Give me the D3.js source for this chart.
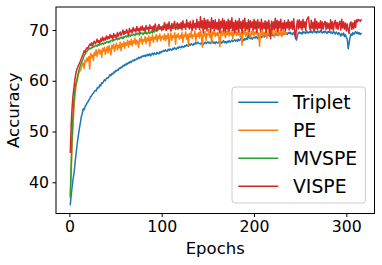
<!DOCTYPE html>
<html>
<head>
<meta charset="utf-8">
<script src="https://cdn.jsdelivr.net/npm/d3@7"></script>
<style>
  body { margin: 0; background: #fff; }
  svg { display: block; font-family: "DejaVu Sans", sans-serif; }
</style>
</head>
<body>
<div id="chart"></div>
<script>
// accuracy per epoch
var series_names = ['Triplet', 'PE', 'MVSPE', 'VISPE'];
var series_colors = ['#1f77b4', '#ff7f0e', '#2ca02c', '#d62728'];
var x_ticks = [0, 100, 200, 300];
var y_ticks = [40, 50, 60, 70];

var triplet = [
  35.6, 37.5, 39.2, 40.6, 41.8, 43.5, 45.2, 46.9, 48.3, 49.6, 50.8, 51.8, 53.0, 53.6, 54.5, 54.3, 54.9, 55.2, 55.6, 55.8,
  56.2, 56.4, 56.9, 57.0, 57.4, 57.5, 57.9, 58.1, 58.0, 58.5, 58.7, 58.6, 59.2, 59.0, 59.6, 59.5, 59.9, 60.2, 60.0, 60.4,
  60.6, 60.5, 60.9, 61.2, 61.0, 61.4, 61.3, 61.7, 61.6, 62.0, 61.9, 62.2, 62.1, 62.5, 62.4, 62.7, 62.6, 63.0, 62.9, 63.2,
  63.1, 63.4, 63.3, 63.6, 63.5, 63.8, 63.6, 63.9, 64.1, 63.9, 64.2, 64.1, 64.4, 64.3, 64.6, 64.4, 64.7, 64.6, 64.9, 64.8,
  65.0, 64.8, 65.1, 64.9, 65.2, 65.0, 65.3, 64.9, 65.2, 65.4, 65.1, 65.5, 65.3, 65.2, 65.6, 65.4, 65.3, 65.7, 65.5, 65.8,
  65.7, 66.0, 65.8, 66.1, 65.9, 65.8, 66.2, 66.0, 66.3, 66.1, 66.0, 66.4, 66.2, 66.5, 66.3, 66.2, 66.6, 66.4, 66.7, 66.6,
  66.5, 66.8, 66.7, 66.6, 66.9, 66.8, 67.1, 66.9, 66.8, 67.2, 67.0, 67.3, 67.1, 67.0, 67.4, 67.2, 67.5, 67.3, 67.6, 67.4,
  67.3, 67.2, 67.5, 67.3, 67.1, 67.4, 67.6, 67.3, 67.5, 67.7, 67.4, 67.6, 67.3, 67.5, 67.8, 67.4, 67.6, 67.3, 67.7, 67.5,
  67.4, 67.7, 67.5, 67.8, 67.4, 67.6, 67.9, 67.5, 67.7, 67.4, 67.8, 67.6, 67.9, 67.6, 67.8, 68.0, 67.7, 67.9, 68.1, 67.8,
  68.0, 67.8, 68.2, 67.9, 68.1, 68.3, 68.0, 68.2, 67.9, 68.3, 68.1, 68.4, 68.2, 69.6, 68.4, 68.3, 68.5, 68.2, 68.4, 68.6,
  68.4, 68.7, 68.5, 68.3, 68.8, 68.6, 68.9, 68.5, 68.7, 69.0, 68.6, 68.8, 69.1, 68.7, 68.9, 69.2, 68.8, 69.0, 69.3, 68.9,
  69.1, 68.8, 69.2, 69.0, 69.3, 68.9, 69.4, 69.1, 69.2, 69.5, 69.0, 69.3, 69.6, 69.2, 69.4, 69.1, 69.5, 69.3, 69.6, 69.2,
  69.4, 69.1, 69.5, 69.2, 68.6, 68.0, 68.9, 69.4, 69.6, 69.3, 69.5, 69.2, 69.7, 69.4, 69.6, 69.3, 69.8, 69.5, 69.4, 69.7,
  69.5, 69.8, 69.4, 69.6, 69.9, 69.5, 69.7, 69.4, 69.8, 69.6, 69.5, 69.9, 69.6, 69.4, 69.7, 69.5, 69.8, 69.6, 69.3, 69.7,
  69.5, 69.8, 69.4, 69.6, 69.3, 69.7, 69.5, 69.2, 69.6, 69.4, 69.1, 69.5, 69.2, 68.8, 69.3, 69.0, 69.4, 68.7, 69.1, 68.5,
  68.2, 66.3, 67.4, 68.6, 69.2, 68.9, 69.5, 69.1, 69.4, 69.7, 69.3, 69.6, 69.2, 69.5, 69.1, 69.3
];

var pe = [
  37.6, 42.0, 47.5, 51.5, 54.8, 57.0, 58.7, 59.6, 60.5, 61.4, 61.9, 62.0, 62.6, 63.2, 63.5, 62.4, 64.0, 63.7, 64.5, 63.9,
  64.8, 62.3, 65.4, 64.6, 65.1, 64.0, 65.6, 65.0, 66.1, 64.8, 65.7, 66.2, 65.3, 66.0, 64.6, 66.4, 65.8, 66.6, 65.2, 66.0,
  66.7, 65.5, 66.9, 66.2, 65.1, 67.0, 66.4, 67.2, 65.8, 66.8, 67.4, 66.1, 67.0, 66.5, 67.6, 65.9, 67.3, 66.8, 67.7, 66.4,
  67.5, 67.0, 68.0, 66.6, 67.8, 67.2, 68.2, 66.9, 67.9, 67.4, 68.4, 67.1, 68.0, 67.6, 66.5, 68.3, 67.7, 68.6, 67.2, 68.1,
  67.8, 68.7, 67.3, 68.4, 67.9, 68.8, 66.8, 68.5, 68.0, 69.0, 67.6, 68.6, 68.2, 69.1, 67.7, 68.8, 68.3, 69.2, 67.9, 68.7,
  68.8, 68.1, 69.2, 67.9, 68.9, 68.3, 69.3, 66.8, 68.7, 69.4, 68.0, 68.9, 68.5, 69.5, 67.2, 69.0, 68.6, 69.3, 68.2, 68.9,
  68.4, 69.5, 67.6, 69.0, 68.7, 69.6, 68.2, 69.1, 66.9, 69.3, 68.6, 69.7, 68.3, 69.0, 68.8, 69.8, 67.8, 69.2, 68.7, 69.5,
  68.4, 69.9, 68.9, 66.6, 69.4, 68.8, 69.7, 67.9, 69.3, 69.0, 70.1, 68.6, 69.5, 67.4, 69.6, 69.1, 70.0, 68.7, 69.4, 68.9,
  69.6, 68.4, 66.7, 69.2, 69.8, 68.9, 70.0, 69.3, 68.5, 69.7, 69.1, 70.2, 68.8, 69.5, 69.0, 69.9, 68.3, 69.6, 69.2, 70.1,
  68.9, 69.5, 69.0, 70.0, 68.6, 69.4, 67.0, 69.8, 69.2, 70.3, 68.7, 69.5, 69.0, 70.1, 69.3, 68.5, 69.7, 69.1, 70.2, 68.9,
  69.6, 69.2, 70.0, 68.8, 69.4, 66.8, 69.7, 69.1, 70.1, 68.7, 69.5, 69.0, 69.9, 68.4, 69.3, 70.2, 68.9, 69.6, 69.1, 70.0,
  69.2, 68.6, 69.8, 69.3, 70.1, 68.9, 69.5, 69.0, 70.2, 68.7, 69.4, 69.9, 69.1, 69.6, 69.3
];

var mvspe = [
  37.0, 44.5, 49.5, 53.2, 56.2, 58.3, 59.4, 60.1, 61.0, 61.8, 62.5, 63.1, 63.5, 63.9, 64.4, 65.0, 65.2, 65.6, 65.8, 66.0,
  66.2, 66.4, 66.3, 66.6, 66.5, 66.8, 66.7, 66.9, 67.0, 66.8, 67.1, 67.0, 67.2, 67.1, 67.3, 67.4, 67.2, 67.5, 67.4, 67.6,
  67.7, 67.5, 67.8, 67.6, 67.9, 68.0, 67.8, 68.1, 68.0, 68.2, 68.3, 68.1, 68.4, 68.2, 68.5, 68.4, 68.6, 68.3, 68.7, 68.6,
  68.8, 68.6, 68.9, 68.7, 69.0, 68.8, 69.1, 68.9, 69.0, 69.2, 68.9, 69.3, 69.1, 69.4, 69.2, 69.0, 69.5, 69.3, 69.4, 69.1,
  69.5, 69.3, 69.6, 69.2, 69.4, 69.7, 69.3, 69.5, 69.8, 69.4, 69.9, 69.6, 70.1, 69.8, 70.3, 70.0, 70.5, 70.2, 70.6, 70.4,
  70.8, 70.5, 70.9, 71.1, 70.6, 71.0, 70.7, 70.9, 70.4, 70.8, 70.5, 70.7, 70.3, 70.6, 70.4, 70.8, 70.2, 70.5, 70.7, 70.3,
  70.6, 70.4, 70.8, 70.5, 70.9, 70.6, 71.0, 70.7, 70.5, 70.9, 70.6, 71.1, 70.8, 70.6, 71.0, 70.7, 71.2, 70.8, 71.0, 70.7,
  71.1, 70.8, 71.3, 70.9, 71.0, 71.2, 70.8, 71.1, 70.9, 71.3, 71.0, 70.8, 71.2, 70.9, 71.4, 71.0, 70.8, 71.2, 70.9, 71.1,
  71.3, 70.9, 71.1, 71.4, 70.8, 71.2, 71.0, 71.3, 70.9, 71.5, 71.1, 70.8, 71.2, 71.0, 71.4, 70.9, 71.2, 71.0, 71.3, 70.8,
  71.1, 71.4, 70.9, 71.2, 71.0, 71.5, 70.8, 71.3, 71.0, 71.2, 70.9, 71.4, 71.1, 70.8, 71.3, 71.0, 71.2, 70.9, 71.4, 71.1,
  70.8, 71.2, 71.0, 71.3, 70.9, 71.1, 70.7, 71.2, 71.0, 70.8, 71.3, 70.9, 71.1, 70.6, 71.0, 70.8, 71.2, 70.7, 71.0, 70.9
];

var vispe = [
  45.9, 51.5, 54.8, 57.2, 58.7, 60.3, 61.4, 62.2, 62.6, 63.1, 63.5, 63.9, 64.4, 64.9, 65.3, 65.9, 65.6, 66.2, 66.5, 66.3,
  66.8, 67.2, 67.0, 67.5, 66.9, 67.4, 67.8, 67.3, 67.6, 68.2, 67.5, 67.9, 67.4, 68.3, 67.8, 68.6, 67.9, 68.4, 68.0, 68.8,
  68.2, 68.7, 68.3, 69.1, 68.5, 68.9, 68.2, 69.3, 68.6, 69.0, 68.4, 69.5, 68.8, 69.2, 69.6, 68.9, 69.4, 70.0, 69.1, 69.7,
  69.3, 70.1, 69.5, 69.0, 70.3, 69.6, 70.0, 69.4, 70.5, 69.8, 70.2, 69.6, 70.7, 69.9, 70.3, 69.5, 70.6, 70.0, 70.8, 69.9,
  70.4, 69.7, 70.9, 70.2, 70.5, 69.8, 71.0, 70.3, 70.6, 69.9, 70.8, 70.1, 71.2, 70.4, 69.8, 70.7, 71.1, 70.2, 70.6, 69.9,
  70.6, 70.1, 71.5, 70.3, 69.9, 71.2, 70.2, 71.6, 70.4, 69.8, 71.3, 70.3, 71.1, 71.7, 70.1, 71.0, 71.4, 70.2, 71.2, 70.4,
  71.5, 70.0, 71.8, 70.5, 71.2, 70.1, 72.0, 70.7, 71.4, 70.2, 71.7, 70.6, 69.9, 71.9, 70.4, 71.3, 70.1, 72.1, 70.5, 71.6,
  70.1, 72.6, 70.4, 71.8, 69.5, 72.3, 70.2, 71.9, 69.8, 72.0, 70.5, 71.6, 69.6, 72.4, 70.3, 71.8, 69.9, 72.0, 70.2, 71.5,
  70.0, 72.1, 69.4, 71.7, 70.4, 72.2, 69.8, 71.9, 69.6, 71.6, 70.2, 72.1, 69.7, 71.8, 70.3, 72.4, 69.9, 71.5, 69.5, 71.9,
  70.1, 71.7, 69.6, 72.2, 70.3, 71.6, 69.4, 71.9, 70.4, 72.3, 69.9, 71.4, 70.2, 72.0, 69.7, 71.8, 70.5, 71.6, 70.0, 72.1,
  70.2, 71.7, 69.5, 72.0, 70.4, 71.5, 69.8, 72.1, 70.1, 71.4, 70.3, 71.8, 69.5, 71.6, 70.2, 71.9, 69.9, 68.3, 71.7, 70.1,
  71.6, 70.0, 72.3, 70.3, 71.9, 69.7, 71.7, 70.4, 72.1, 69.9, 71.4, 70.2, 71.8, 69.8, 71.5, 70.4, 72.0, 70.0, 71.6, 70.3,
  71.7, 70.1, 72.2, 69.8, 68.3, 70.5, 71.9, 70.2, 72.0, 70.4, 71.7, 70.0, 72.1, 70.5, 71.6, 69.9, 72.0, 72.3, 72.6, 70.6,
  70.0, 71.9, 70.3, 71.5, 69.8, 72.2, 70.2, 71.7, 70.1, 71.4, 70.4, 71.8, 69.9, 71.6, 70.2, 71.3, 71.7, 70.1, 71.5, 70.3,
  71.3, 70.0, 72.0, 70.2, 71.6, 69.9, 71.4, 71.9, 70.3, 71.5, 70.1, 71.3, 71.7, 70.0, 72.1, 70.4, 71.6, 70.2, 71.4, 69.8,
  71.2, 70.0, 69.3, 71.3, 71.6, 70.1, 71.4, 70.3, 71.8, 70.5, 72.0, 71.6, 72.1, 71.9, 71.7, 72.0
];

var all_series = [triplet, pe, mvspe, vispe];

var width = 382, height = 265;
var plot = { left: 56, top: 7, right: 374.5, bottom: 213.5 };

var svg = d3.select('#chart')
  .append('svg')
  .attr('width', width)
  .attr('height', height);

var x = d3.scaleLinear()
  .domain([-14.5, 330.5])
  .range([plot.left, plot.right]);

var y = d3.scaleLinear()
  .domain([33.85, 74.53])
  .range([plot.bottom, plot.top]);

var line = d3.line()
  .x(function(d, i) { return x(i + 1); })
  .y(function(d) { return y(d); });

svg.append('g')
  .attr('class', 'lines')
  .selectAll('path')
  .data(all_series)
  .enter()
  .append('path')
  .attr('d', line)
  .attr('fill', 'none')
  .attr('stroke', function(d, i) { return series_colors[i]; })
  .attr('stroke-width', 1.5)
  .attr('stroke-linejoin', 'round')
  .attr('stroke-linecap', 'square');

var x_axis = d3.axisBottom(x)
  .tickValues(x_ticks)
  .tickSize(3.5)
  .tickPadding(3.5);

var y_axis = d3.axisLeft(y)
  .tickValues(y_ticks)
  .tickSize(3.5)
  .tickPadding(3.5);

svg.append('g')
  .attr('class', 'xaxis')
  .attr('transform', 'translate(0,' + plot.bottom + ')')
  .call(x_axis);

svg.append('g')
  .attr('class', 'yaxis')
  .attr('transform', 'translate(' + plot.left + ',0)')
  .call(y_axis);

svg.selectAll('.xaxis .domain, .yaxis .domain').remove();
svg.selectAll('.xaxis line, .yaxis line').attr('stroke', '#000').attr('stroke-width', 1);
svg.selectAll('.xaxis text, .yaxis text')
  .attr('fill', '#000')
  .style('font-family', '"DejaVu Sans", sans-serif')
  .style('font-size', '15.7px');

// frame (all four spines)
svg.append('rect')
  .attr('x', plot.left)
  .attr('y', plot.top)
  .attr('width', plot.right - plot.left)
  .attr('height', plot.bottom - plot.top)
  .attr('fill', 'none')
  .attr('stroke', '#000')
  .attr('stroke-width', 1);

svg.append('text')
  .attr('x', (plot.left + plot.right) / 2)
  .attr('y', 254.3)
  .attr('text-anchor', 'middle')
  .style('font-size', '16.5px')
  .text('Epochs');

svg.append('text')
  .attr('transform', 'translate(19.3,' + ((plot.top + plot.bottom) / 2) + ') rotate(-90)')
  .attr('text-anchor', 'middle')
  .style('font-size', '16.5px')
  .text('Accuracy');

// legend
var legend = svg.append('g').attr('class', 'legend');

legend.append('rect')
  .attr('x', 232)
  .attr('y', 87)
  .attr('width', 133.5)
  .attr('height', 116)
  .attr('rx', 3)
  .attr('fill', '#fff')
  .attr('fill-opacity', 0.8)
  .attr('stroke', '#cccccc')
  .attr('stroke-width', 1);

var rows = legend.selectAll('g.row')
  .data(series_names)
  .enter()
  .append('g')
  .attr('class', 'row')
  .attr('transform', function(d, i) { return 'translate(0,' + (102.3 + i * 28) + ')'; });

rows.append('line')
  .attr('x1', 238.3)
  .attr('x2', 278.3)
  .attr('stroke', function(d, i) { return series_colors[i]; })
  .attr('stroke-width', 1.5);

rows.append('text')
  .attr('x', 293)
  .attr('y', 7)
  .style('font-size', '18.8px')
  .text(function(d) { return d; });
</script>
</body>
</html>
